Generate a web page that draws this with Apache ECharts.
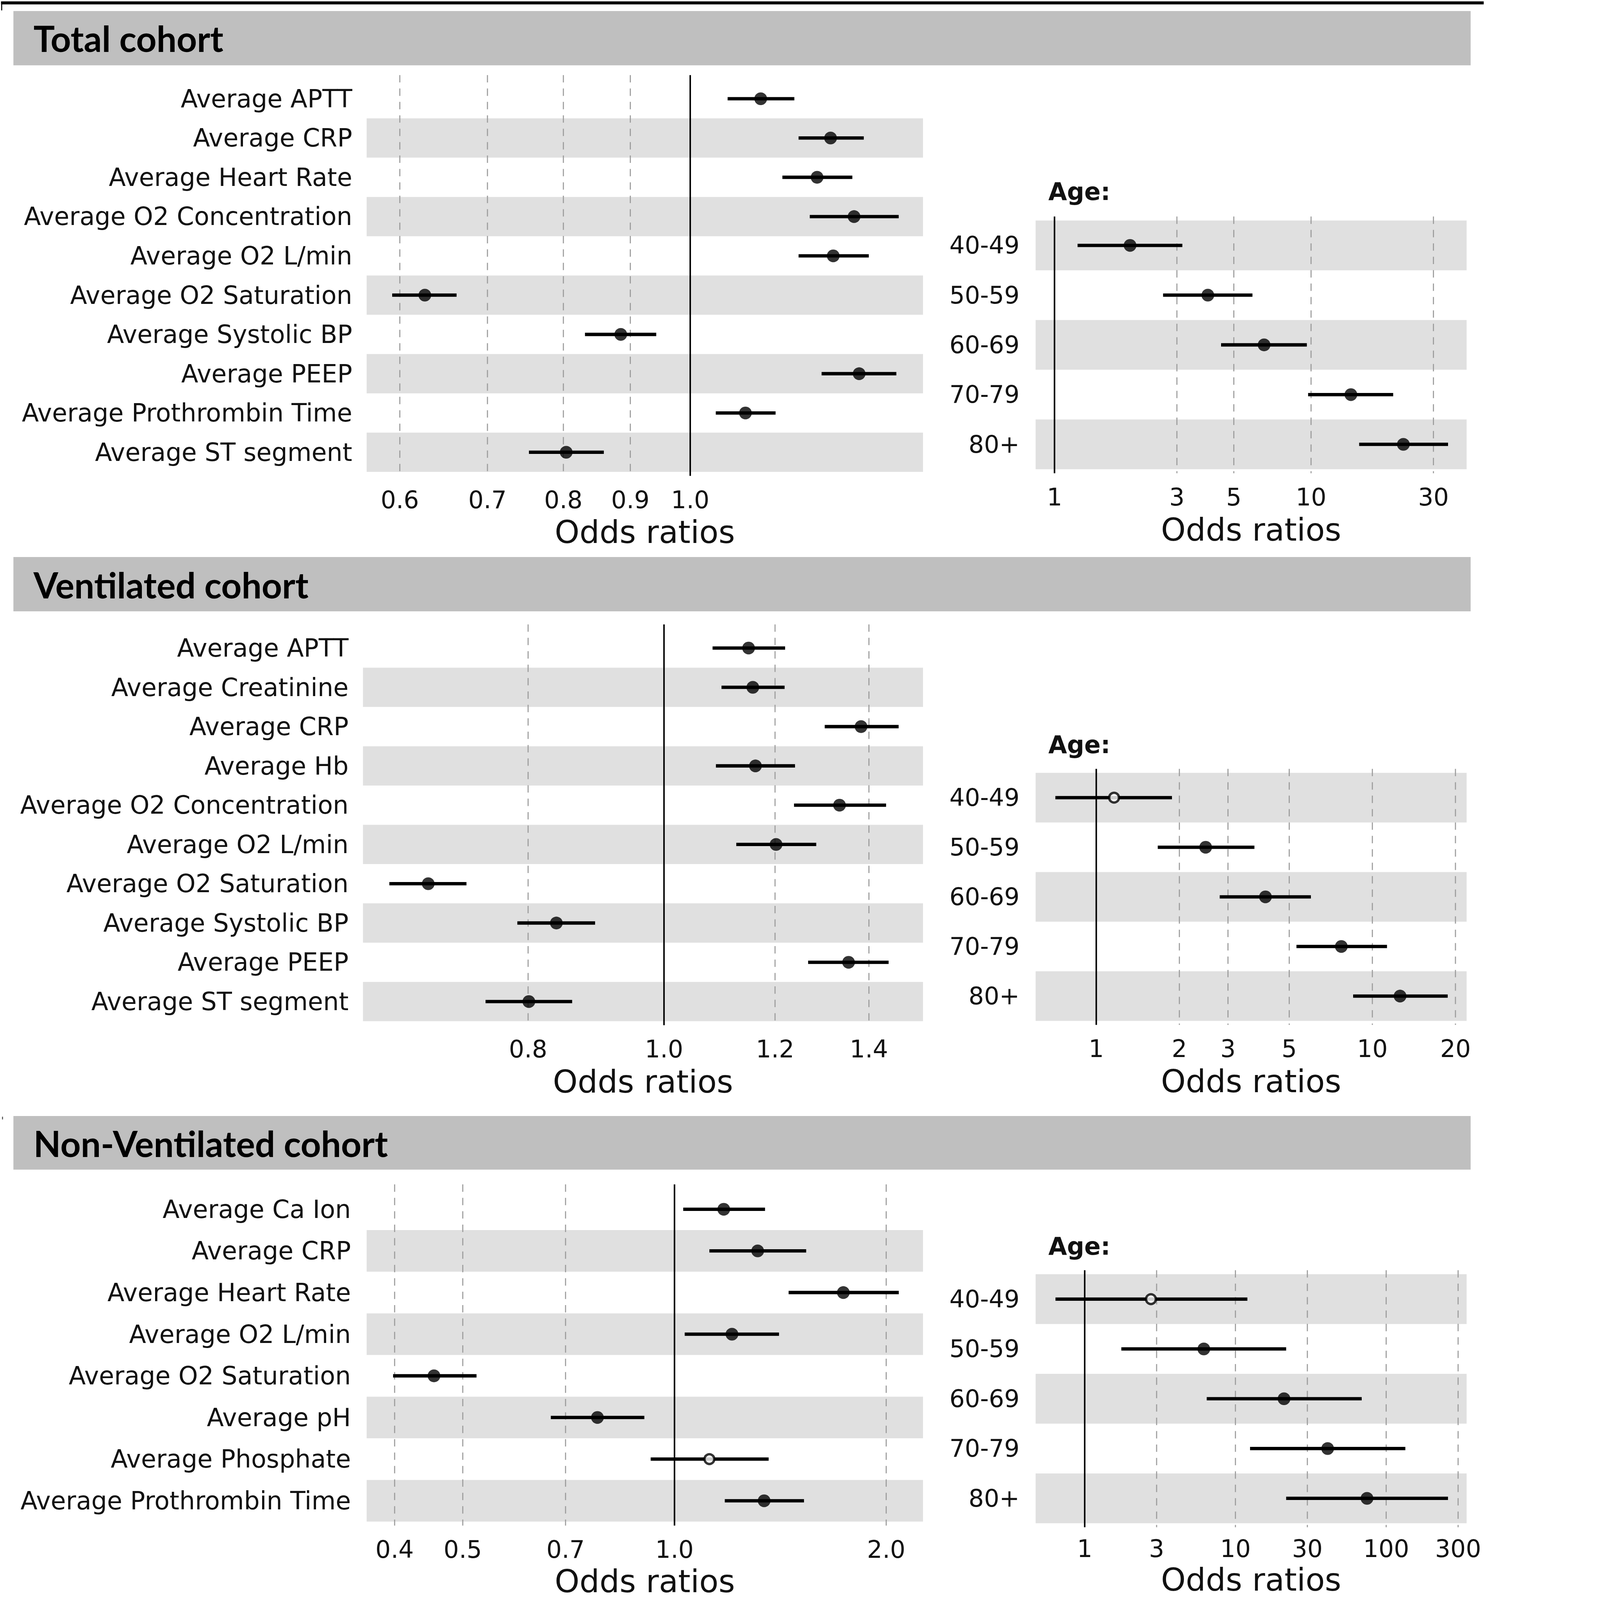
<!DOCTYPE html>
<html>
<head>
<meta charset="utf-8">
<script src="https://cdn.jsdelivr.net/npm/echarts@6.0.0/dist/echarts.min.js"></script>
<style>
  html, body { margin: 0; padding: 0; background: #ffffff; overflow: hidden; }
  #chart { position: absolute; left: 0; top: 0; }
</style>
</head>
<body>
<div id="chart"></div>
<script>
// ---------------- DATA ----------------
const totalLabels = ['Average APTT', 'Average CRP', 'Average Heart Rate', 'Average O2 Concentration', 'Average O2 L/min', 'Average O2 Saturation', 'Average Systolic BP', 'Average PEEP', 'Average Prothrombin Time', 'Average ST segment'];
const totalOR = [1.132, 1.280, 1.250, 1.334, 1.286, 0.627, 0.885, 1.346, 1.102, 0.804];
const totalLo = [1.068, 1.210, 1.176, 1.234, 1.210, 0.592, 0.831, 1.260, 1.046, 0.753];
const totalHi = [1.201, 1.357, 1.330, 1.443, 1.369, 0.663, 0.942, 1.437, 1.162, 0.859];
const totalSig = [true, true, true, true, true, true, true, true, true, true];
const totalTicks = [0.6, 0.7, 0.8, 0.9, 1.0];

const ageLabels = ['40-49', '50-59', '60-69', '70-79', '80+'];

const totalAgeOR = [1.97, 3.96, 6.56, 14.3, 22.9];
const totalAgeLo = [1.23, 2.65, 4.46, 9.74, 15.4];
const totalAgeHi = [3.15, 5.91, 9.63, 20.9, 34.2];
const totalAgeSig = [true, true, true, true, true];
const totalAgeTicks = [1, 3, 5, 10, 30];

const ventLabels = ['Average APTT', 'Average Creatinine', 'Average CRP', 'Average Hb', 'Average O2 Concentration', 'Average O2 L/min', 'Average O2 Saturation', 'Average Systolic BP', 'Average PEEP', 'Average ST segment'];
const ventOR = [1.149, 1.157, 1.382, 1.162, 1.334, 1.202, 0.679, 0.838, 1.354, 0.801];
const ventLo = [1.083, 1.099, 1.302, 1.089, 1.238, 1.126, 0.637, 0.786, 1.267, 0.746];
const ventHi = [1.220, 1.219, 1.470, 1.240, 1.440, 1.284, 0.723, 0.893, 1.446, 0.860];
const ventSig = [true, true, true, true, true, true, true, true, true, true];
const ventTicks = [0.8, 1.0, 1.2, 1.4];

const ventAgeOR = [1.16, 2.49, 4.10, 7.72, 12.6];
const ventAgeLo = [0.711, 1.67, 2.80, 5.31, 8.52];
const ventAgeHi = [1.88, 3.74, 5.99, 11.3, 18.75];
const ventAgeSig = [false, true, true, true, true];
const ventAgeTicks = [1, 2, 3, 5, 10, 20];

const nonLabels = ['Average Ca Ion', 'Average CRP', 'Average Heart Rate', 'Average O2 L/min', 'Average O2 Saturation', 'Average pH', 'Average Phosphate', 'Average Prothrombin Time'];
const nonOR = [1.175, 1.313, 1.738, 1.207, 0.455, 0.777, 1.121, 1.341];
const nonLo = [1.029, 1.121, 1.453, 1.034, 0.398, 0.667, 0.925, 1.179];
const nonHi = [1.345, 1.539, 2.084, 1.408, 0.523, 0.906, 1.361, 1.528];
const nonSig = [true, true, true, true, true, true, false, true];
const nonTicks = [0.4, 0.5, 0.7, 1.0, 2.0];

const nonAgeOR = [2.75, 6.17, 21.0, 40.9, 74.6];
const nonAgeLo = [0.64, 1.75, 6.45, 12.5, 21.7];
const nonAgeHi = [12.0, 21.7, 68.8, 134, 257];
const nonAgeSig = [false, true, true, true, true];
const nonAgeTicks = [1, 3, 10, 30, 100, 300];

const cohortTitles = ['Total cohort', 'Ventilated cohort', 'Non-Ventilated cohort'];
const axisTitle = 'Odds ratios';
const ageTitle = 'Age:';

// ---------------- LAYOUT / STYLE ----------------
// design units are reference-image pixels (4433 x 4774); scale to the viewport
const W0 = 4433, H0 = 4774;
const S = Math.min((window.innerWidth || W0) / W0, (window.innerHeight || H0) / H0);
const px = v => v * S;

const FONT = 'DejaVu Sans';
const BAND = '#e0e0e0';
const CLEAR = 'rgba(255,255,255,0)';

const panels = [
  { labels: totalLabels, or: totalOR, lo: totalLo, hi: totalHi, sig: totalSig, ticks: totalTicks, min: 0.566, max: 1.506, dec: 1,
    grid: { left: 1094, top: 236, width: 1660, height: 1172 }, margin: 43, tickMargin: 48, nameGap: 133, bands: [CLEAR, BAND] },
  { labels: ageLabels, or: totalAgeOR, lo: totalAgeLo, hi: totalAgeHi, sig: totalAgeSig, ticks: totalAgeTicks, min: 0.844, max: 40.4, dec: 0,
    grid: { left: 3090, top: 658, width: 1286, height: 742 }, margin: 48, tickMargin: 48, nameGap: 133, bands: [BAND, CLEAR] },
  { labels: ventLabels, or: ventOR, lo: ventLo, hi: ventHi, sig: ventSig, ticks: ventTicks, min: 0.610, max: 1.530, dec: 1,
    grid: { left: 1083, top: 1875, width: 1671, height: 1172 }, margin: 43, tickMargin: 48, nameGap: 133, bands: [CLEAR, BAND] },
  { labels: ageLabels, or: ventAgeOR, lo: ventAgeLo, hi: ventAgeHi, sig: ventAgeSig, ticks: ventAgeTicks, min: 0.603, max: 21.95, dec: 0,
    grid: { left: 3090, top: 2306, width: 1286, height: 740 }, margin: 48, tickMargin: 48, nameGap: 133, bands: [BAND, CLEAR] },
  { labels: nonLabels, or: nonOR, lo: nonLo, hi: nonHi, sig: nonSig, ticks: nonTicks, min: 0.365, max: 2.256, dec: 1,
    grid: { left: 1094, top: 3546, width: 1660, height: 994 }, margin: 47, tickMargin: 48, nameGap: 131, bands: [CLEAR, BAND] },
  { labels: ageLabels, or: nonAgeOR, lo: nonAgeLo, hi: nonAgeHi, sig: nonAgeSig, ticks: nonAgeTicks, min: 0.4725, max: 341.6, dec: 0,
    grid: { left: 3090, top: 3802, width: 1286, height: 743 }, margin: 48, tickMargin: 40, nameGap: 121, bands: [BAND, CLEAR] }
];

const EXT = 12;
function vlineRender(params, api) {
  const x = api.coord([api.value(0), 0])[0];
  const cs = params.coordSys;
  const solid = api.value(2) === 1;
  return {
    type: 'line',
    shape: { x1: x, y1: cs.y - px(EXT), x2: x, y2: cs.y + cs.height + px(EXT) },
    style: solid
      ? { stroke: '#000000', lineWidth: px(4.5) }
      : { stroke: '#9c9c9c', lineWidth: px(3.2), lineDash: [px(22), px(18)] }
  };
}
function ciRender(params, api) {
  const y = api.value(2);
  const p1 = api.coord([api.value(0), y]);
  const p2 = api.coord([api.value(1), y]);
  return {
    type: 'line',
    shape: { x1: p1[0], y1: p1[1], x2: p2[0], y2: p2[1] },
    style: { stroke: '#000000', lineWidth: px(10), lineCap: 'butt' }
  };
}

const grids = [], xAxes = [], yAxes = [], series = [];
panels.forEach((p, i) => {
  grids.push({ containLabel: false, left: px(p.grid.left), top: px(p.grid.top), width: px(p.grid.width), height: px(p.grid.height) });
  xAxes.push({
    type: 'log', logBase: 10, gridIndex: i, min: p.min, max: p.max,
    axisLine: { show: false }, axisTick: { show: false }, splitLine: { show: false },
    axisLabel: {
      customValues: p.ticks, margin: px(p.tickMargin), fontFamily: FONT, fontSize: px(72), lineHeight: px(72), color: '#111111',
      formatter: v => p.dec ? Number(v).toFixed(p.dec) : String(Math.round(v))
    },
    name: axisTitle, nameLocation: 'middle', nameGap: px(p.nameGap),
    nameTextStyle: { fontFamily: FONT, fontSize: px(94), lineHeight: px(94), color: '#111111' }
  });
  yAxes.push({
    type: 'category', gridIndex: i, data: p.labels, inverse: true,
    axisLine: { show: false }, axisTick: { show: false }, splitLine: { show: false },
    axisLabel: { interval: 0, margin: px(p.margin), fontFamily: FONT, fontSize: px(p.labels === ageLabels ? 72 : 74), color: '#111111' },
    splitArea: { show: true, interval: 0, areaStyle: { color: p.bands } }
  });
  // reference line (solid, at 1) and dashed grid lines at the tick values
  const vdata = p.ticks.map(t => [t, 0, t === 1 ? 1 : 0]);
  if (p.ticks.indexOf(1) < 0) vdata.push([1, 0, 1]);
  series.push({
    type: 'custom', xAxisIndex: i, yAxisIndex: i, renderItem: vlineRender, clip: false,
    encode: { x: 0, y: 1 }, data: vdata, z: 1, silent: true
  });
  series.push({
    type: 'custom', xAxisIndex: i, yAxisIndex: i, renderItem: ciRender, clip: false,
    encode: { x: [0, 1], y: 2 }, data: p.lo.map((lo, k) => [lo, p.hi[k], k]), z: 2, silent: true
  });
  series.push({
    type: 'scatter', xAxisIndex: i, yAxisIndex: i, z: 3, silent: true,
    data: p.or.map((v, k) => p.sig[k]
      ? { value: [v, k], symbolSize: px(38), itemStyle: { color: '#000000', borderWidth: 0 } }
      : { value: [v, k], symbolSize: px(29), itemStyle: { color: '#ffffff', borderColor: '#000000', borderWidth: px(7) } })
  });
});

const headerBands = [
  { y: 33, h: 162, ty: 114 },
  { y: 1662, h: 162, ty: 1744 },
  { y: 3330, h: 160, ty: 3411 }
];
const ageTextY = [572, 2223, 3719];

const graphics = [
  { type: 'line', shape: { x1: px(3), y1: px(8.5), x2: px(4427), y2: px(8.5) }, style: { stroke: '#000000', lineWidth: px(9) }, z: 10 },
  { type: 'line', shape: { x1: px(5), y1: px(6), x2: px(5), y2: px(31) }, style: { stroke: '#000000', lineWidth: px(3) }, z: 10 },
  { type: 'rect', shape: { x: px(6), y: px(3332), width: px(3), height: px(8) }, style: { fill: '#555555' }, z: 10 }
];
headerBands.forEach((b, i) => {
  graphics.push({ type: 'rect', shape: { x: px(40), y: px(b.y), width: px(4348), height: px(b.h) }, style: { fill: '#bfbfbf' }, z: -10 });
  graphics.push({ type: 'text', x: px(100), y: px(b.ty), z: 10,
    style: { text: cohortTitles[i], fill: '#000000', fontFamily: 'Lato', fontWeight: 'bold', fontSize: px(106), verticalAlign: 'middle', align: 'left' } });
});
ageTextY.forEach(y => {
  graphics.push({ type: 'text', x: px(3128), y: px(y), z: 10,
    style: { text: ageTitle, fill: '#111111', fontFamily: FONT, fontWeight: 'bold', fontSize: px(72), verticalAlign: 'middle', align: 'left' } });
});

const el = document.getElementById('chart');
el.style.width = px(W0) + 'px';
el.style.height = px(H0) + 'px';
const chart = echarts.init(el, null, { renderer: 'svg', width: px(W0), height: px(H0) });
chart.setOption({
  backgroundColor: '#ffffff',
  animation: false,
  grid: grids,
  xAxis: xAxes,
  yAxis: yAxes,
  series: series,
  graphic: graphics
});
</script>
</body>
</html>
